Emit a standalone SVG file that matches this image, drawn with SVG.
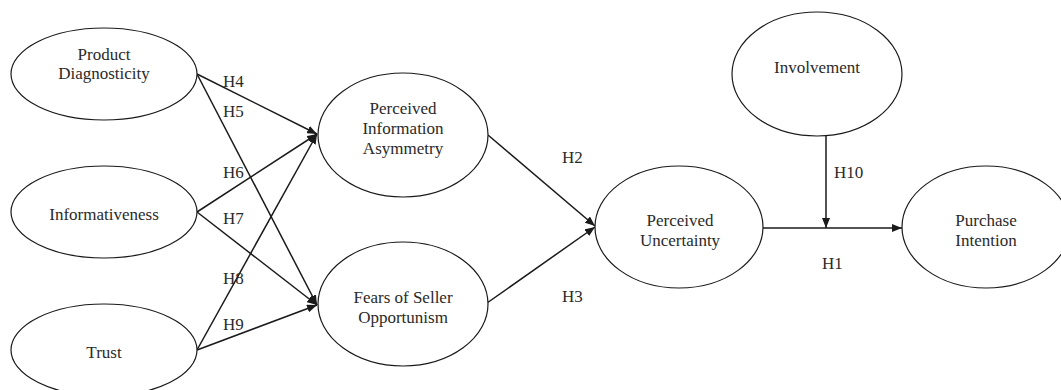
<svg xmlns="http://www.w3.org/2000/svg" width="1061" height="390" viewBox="0 0 1061 390">
<defs>
<marker id="ah" viewBox="0 0 10 8" refX="10" refY="4" markerWidth="10" markerHeight="8" markerUnits="userSpaceOnUse" orient="auto">
<path d="M0,0 L10,4 L0,8 z" fill="#1a1a1a"/>
</marker>
<style>
ellipse{fill:#fff;stroke:#1a1a1a;stroke-width:1.2}
text{font-family:"Liberation Serif","DejaVu Serif","Times New Roman",serif;font-size:17px;fill:#2a2a2a;text-anchor:middle}
.lbl{text-anchor:start}
.c line{stroke:#1a1a1a;stroke-width:1.5;marker-end:url(#ah)}
</style>
</defs>
<rect width="1061" height="390" fill="#fff"/>
<g class="c" id="connectors">
<line x1="197" y1="74" x2="317" y2="134"/>
<line x1="197" y1="74" x2="317" y2="305"/>
<line x1="197" y1="212" x2="317" y2="134"/>
<line x1="197" y1="212" x2="317" y2="305"/>
<line x1="197" y1="350" x2="317" y2="134"/>
<line x1="197" y1="350" x2="317" y2="305"/>
<line x1="488" y1="135" x2="595" y2="226"/>
<line x1="487" y1="303" x2="595" y2="227"/>
<line x1="763" y1="228" x2="902" y2="228"/>
<line x1="826" y1="136" x2="826" y2="228"/>
</g>
<g id="labels">
<text class="lbl" x="223" y="87">H4</text>
<text class="lbl" x="223" y="117">H5</text>
<text class="lbl" x="223" y="178">H6</text>
<text class="lbl" x="223" y="224">H7</text>
<text class="lbl" x="223" y="284">H8</text>
<text class="lbl" x="223" y="330">H9</text>
<text class="lbl" x="562" y="163">H2</text>
<text class="lbl" x="562" y="302">H3</text>
<text class="lbl" x="834" y="178">H10</text>
<text class="lbl" x="822" y="269">H1</text>
</g>
<g id="product-diagnosticity">
<ellipse cx="104" cy="74" rx="93" ry="46"/>
<text x="104" y="60">Product</text>
<text x="104" y="79">Diagnosticity</text>
</g>
<g id="informativeness">
<ellipse cx="104" cy="212" rx="93" ry="46"/>
<text x="104" y="220">Informativeness</text>
</g>
<g id="trust">
<ellipse cx="104" cy="350" rx="93" ry="46"/>
<text x="104" y="358">Trust</text>
</g>
<g id="perceived-information-asymmetry">
<ellipse cx="403" cy="135" rx="85" ry="62"/>
<text x="403" y="114">Perceived</text>
<text x="403" y="134">Information</text>
<text x="403" y="154">Asymmetry</text>
</g>
<g id="fears-of-seller-opportunism">
<ellipse cx="403" cy="304" rx="85" ry="62"/>
<text x="403" y="303">Fears of Seller</text>
<text x="403" y="323">Opportunism</text>
</g>
<g id="perceived-uncertainty">
<ellipse cx="679" cy="227" rx="84" ry="61"/>
<text x="680" y="226">Perceived</text>
<text x="680" y="246">Uncertainty</text>
</g>
<g id="involvement">
<ellipse cx="817" cy="74" rx="85" ry="62"/>
<text x="817" y="73">Involvement</text>
</g>
<g id="purchase-intention">
<ellipse cx="986" cy="227" rx="84" ry="61"/>
<text x="986" y="226">Purchase</text>
<text x="986" y="246">Intention</text>
</g>
</svg>
